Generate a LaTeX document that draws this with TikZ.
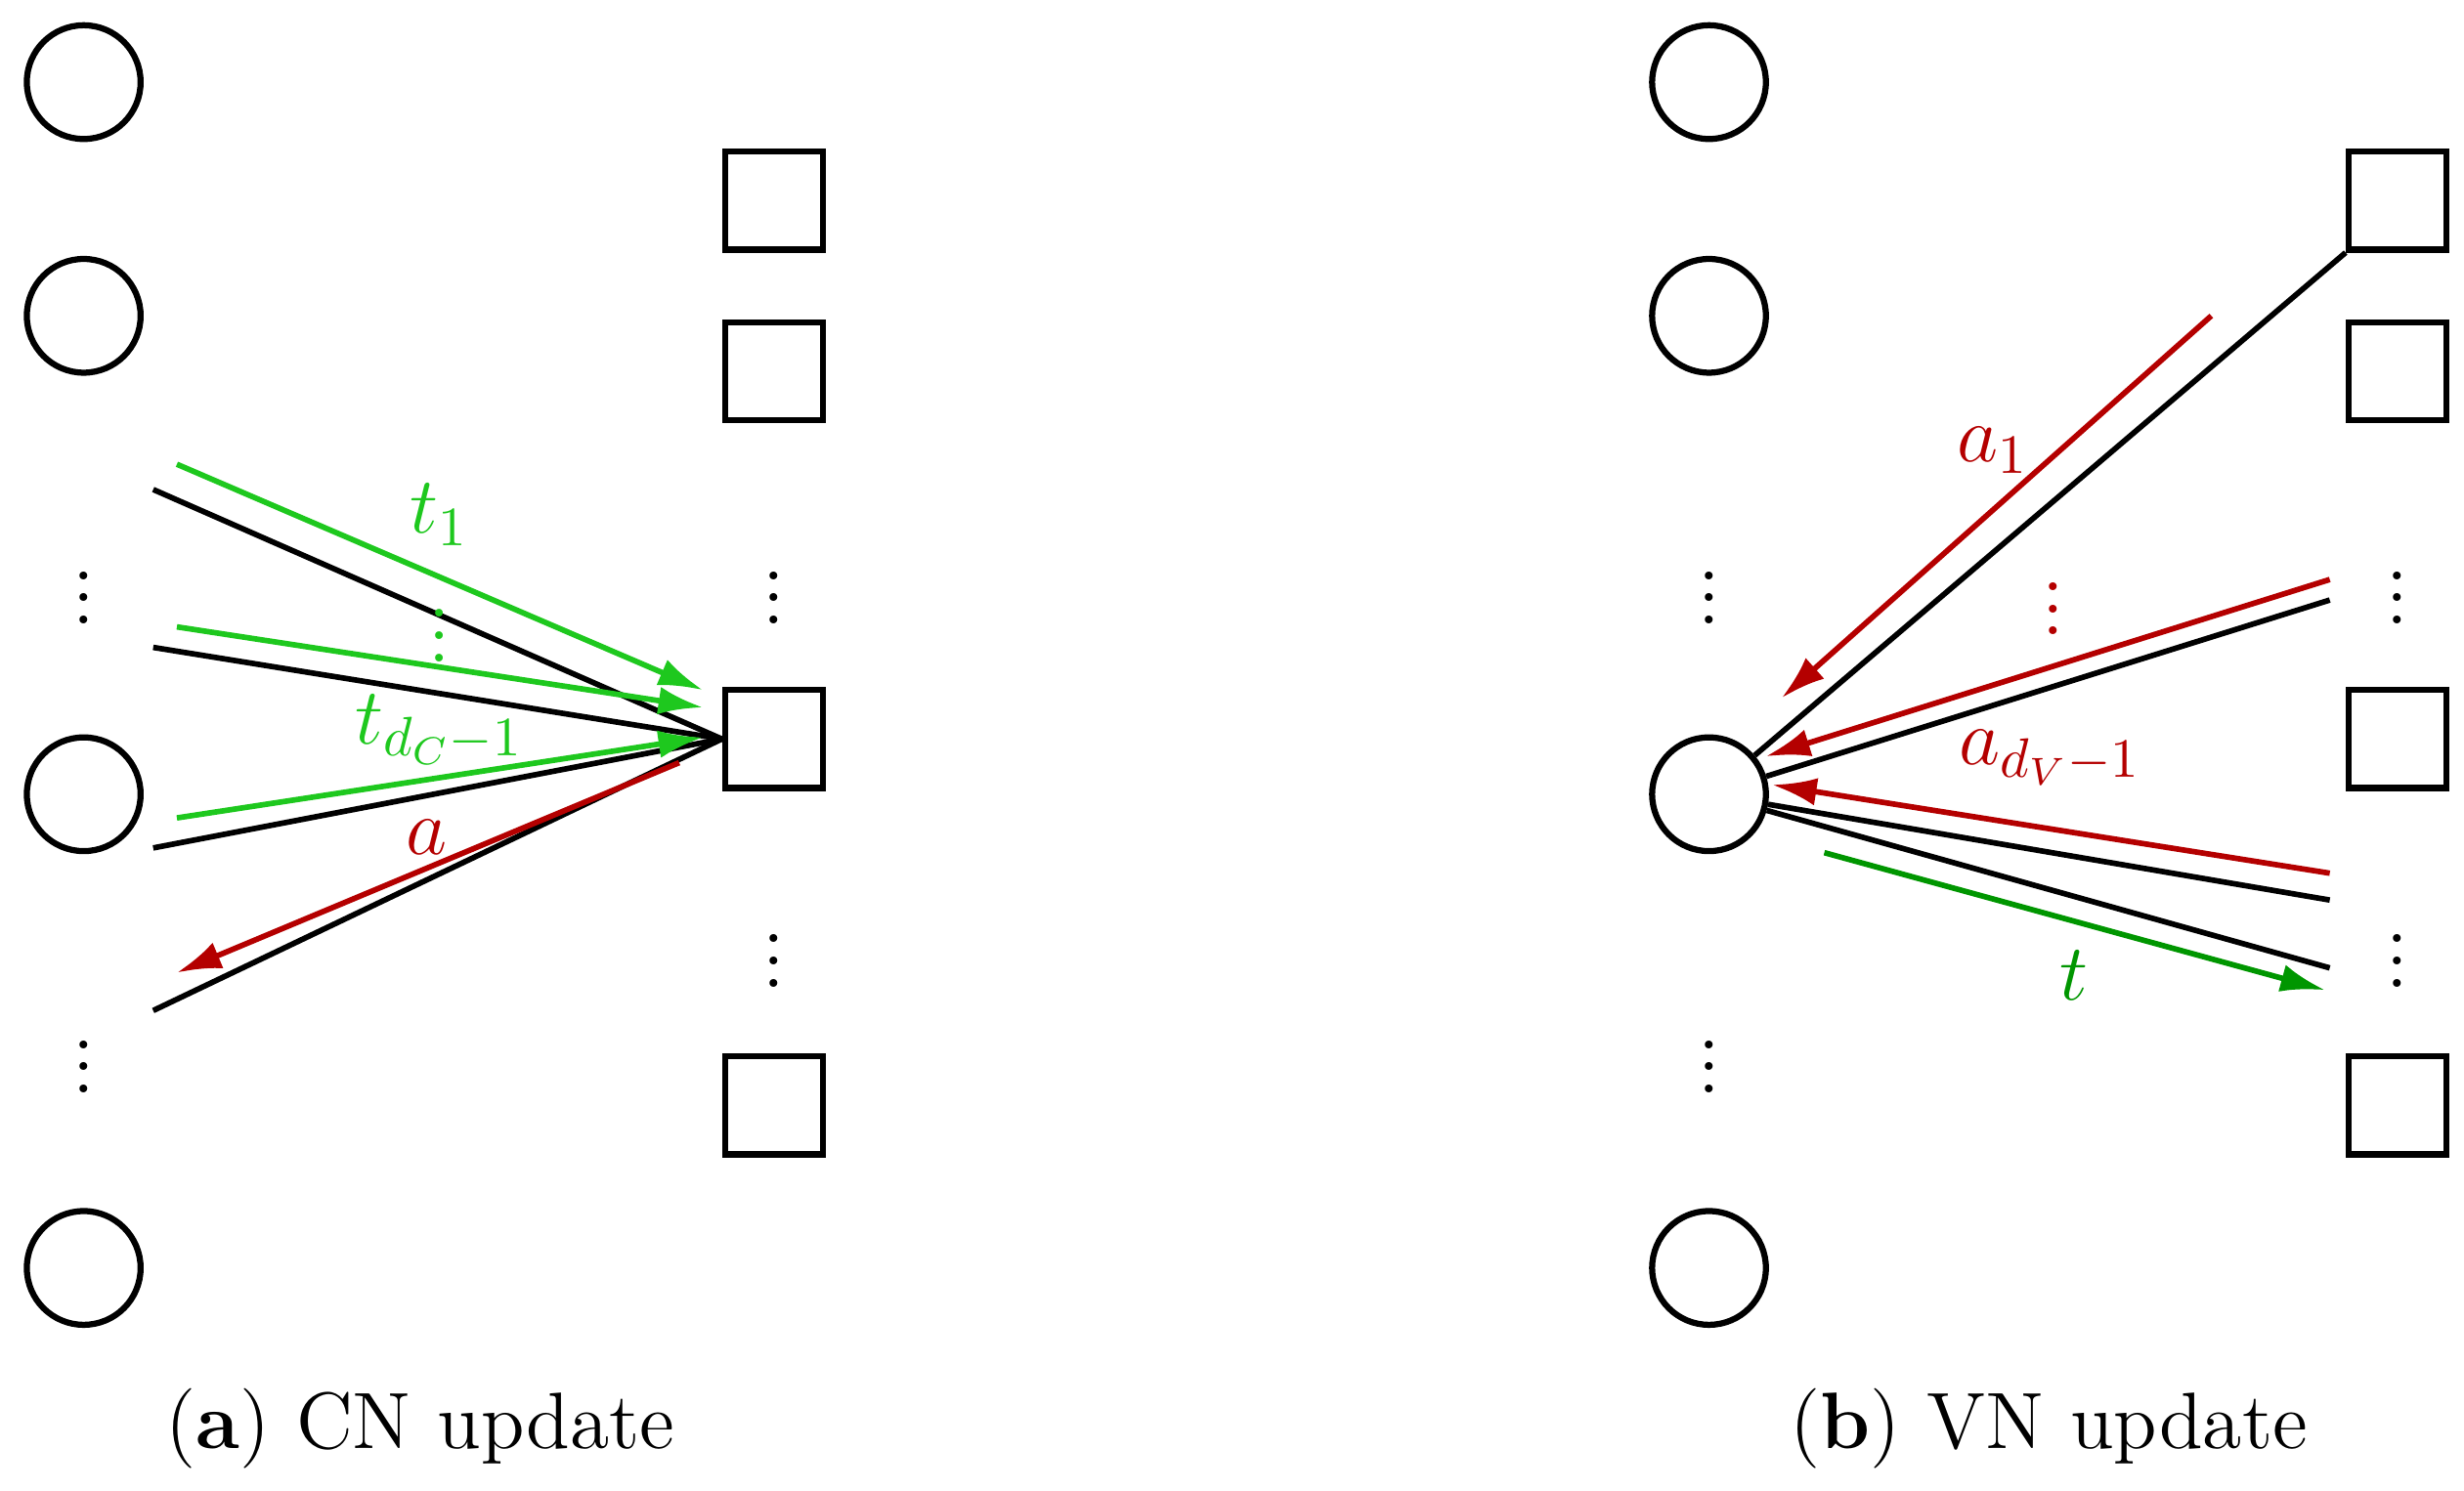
\documentclass[tikz,border=0pt]{standalone}
\usetikzlibrary{arrows.meta}
\begin{document}
\begin{tikzpicture}[x=0.01cm,y=-0.01cm,
  vn/.style={circle,draw,line width=1.1pt,minimum size=0.72cm,inner sep=0},
  cn/.style={rectangle,draw,line width=1.1pt,minimum size=0.62cm,inner sep=0},
  ed/.style={line width=1pt},
  gr/.style={line width=1pt,color=gA,-{Latex[length=8pt,width=5pt]}},
  gr2/.style={line width=1pt,color=gB,-{Latex[length=8pt,width=5pt]}},
  rd/.style={line width=1pt,color=rA,-{Latex[length=8pt,width=5pt]}},
  lab/.style={font=\Large},
  dt/.style={font=\LARGE,inner sep=0}]
\definecolor{gA}{RGB}{30,200,30}
\definecolor{gB}{RGB}{0,150,0}
\definecolor{rA}{RGB}{180,0,0}
\useasboundingbox (0,0) rectangle (1560,944);
% left panel
\foreach \n/\y in {1/52,2/200,3/503,4/803} \node[vn] (L\n) at (53,\y) {};
\foreach \n/\y in {1/127,2/235,3/468,4/700} \node[cn] (Q\n) at (490,\y) {};
\node[dt] (ld1) at (53,368) {$\vdots$};
\node[dt] (ld2) at (53,665) {$\vdots$};
\node[dt] (ld3) at (490,368) {$\vdots$};
\node[dt] (ld4) at (490,598) {$\vdots$};
\coordinate (e1) at (97,310); \coordinate (e2) at (97,410);
\coordinate (e3) at (97,537); \coordinate (e4) at (97,640);
\draw[ed] (e1) -- (Q3.west); \draw[ed] (e2) -- (Q3.west);
\draw[ed] (e3) -- (Q3.west); \draw[ed] (e4) -- (Q3.west);
\coordinate (g1s) at (112,294); \coordinate (g1e) at (445,437);
\coordinate (g2s) at (112,397); \coordinate (g2e) at (445,448);
\coordinate (g3s) at (112,518); \coordinate (g3e) at (445,467);
\coordinate (r1s) at (430,483); \coordinate (r1e) at (112,616);
\draw[gr] (g1s) -- (g1e); \draw[gr] (g2s) -- (g2e); \draw[gr] (g3s) -- (g3e);
\draw[rd] (r1s) -- (r1e);
\node[lab,text=gA] (t1) at (278,326) {$t_1$};
\node[lab,text=gA,inner sep=0] (tv) at (278,392) {$\vdots$};
\node[lab,text=gA] (tdc) at (278,462) {$t_{d_C-1}$};
\node[lab,text=rA] (la) at (270,530) {$a$};
% right panel
\foreach \n/\y in {1/52,2/200,3/503,4/803} \node[vn] (R\n) at (1082,\y) {};
\foreach \n/\y in {1/127,2/235,3/468,4/700} \node[cn] (S\n) at (1518,\y) {};
\node[dt] (rd1) at (1082,368) {$\vdots$};
\node[dt] (rd2) at (1082,665) {$\vdots$};
\node[dt] (rd3) at (1518,368) {$\vdots$};
\node[dt] (rd4) at (1518,598) {$\vdots$};
\coordinate (f2) at (1475,380); \coordinate (f3) at (1475,570); \coordinate (f4) at (1475,613);
\draw[ed] (R3) -- (S1.south west);
\draw[ed] (R3) -- (f2); \draw[ed] (R3) -- (f3); \draw[ed] (R3) -- (f4);
\coordinate (a1s) at (1400,200); \coordinate (a1e) at (1128,442);
\coordinate (a2s) at (1475,367); \coordinate (a2e) at (1118,479);
\coordinate (a3s) at (1475,553); \coordinate (a3e) at (1122,497);
\coordinate (ts) at (1155,540); \coordinate (te) at (1472,627);
\draw[rd] (a1s) -- (a1e); \draw[rd] (a2s) -- (a2e); \draw[rd] (a3s) -- (a3e);
\draw[gr2] (ts) -- (te);
\node[lab,text=rA] (la1) at (1262,285) {$a_1$};
\node[dt,text=rA] (lav) at (1300,375) {$\vdots$};
\node[lab,text=rA] (lad) at (1298,480) {$a_{d_V-1}$};
\node[lab,text=gB] (lt) at (1313,618) {$t$};
% captions
\node[font=\Large] (ca) at (266,905) {(\textbf{a}) CN update};
\node[font=\Large] (cb) at (1297,905) {(\textbf{b}) VN update};
\end{tikzpicture}
\end{document}
